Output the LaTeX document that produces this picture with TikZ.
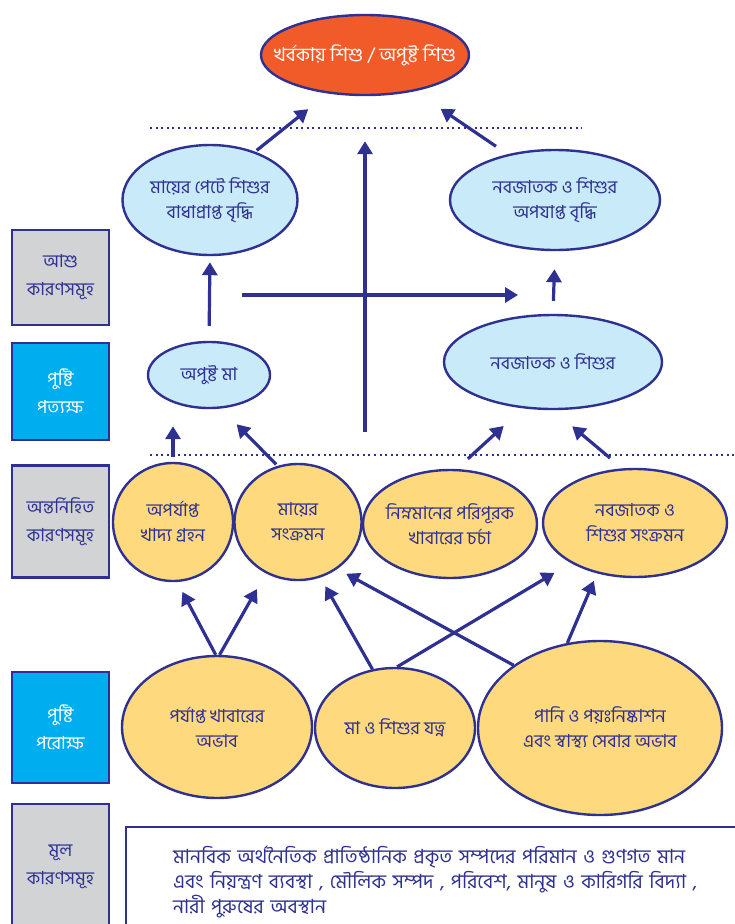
\documentclass[tikz,border=0pt]{standalone}
\usepackage{fontspec}
\setmainfont[Script=Bengali]{Hind Siliguri}
\usetikzlibrary{shapes.geometric, arrows.meta}
\definecolor{stuntblue}{HTML}{2E3192}
\definecolor{stuntorange}{HTML}{F15A29}
\definecolor{stuntsky}{HTML}{C9EAF9}
\definecolor{stuntyellow}{HTML}{FFD97D}
\definecolor{stuntgray}{HTML}{D1D3D4}
\definecolor{stuntcyan}{HTML}{00AEEF}

\begin{document}
\begin{tikzpicture}[
    x=1pt, y=-1pt,
    oval/.style={ellipse, draw=stuntblue, line width=2.4pt, inner xsep=-20pt, inner ysep=-4pt,
        align=center, text=stuntblue, font=\fontsize{18}{25}\selectfont},
    outcome/.style={oval, fill=stuntorange, text=white, font=\fontsize{19}{25}\selectfont},
    direct/.style={oval, fill=stuntsky},
    cause/.style={oval, fill=stuntyellow},
    level/.style={rectangle, draw=stuntblue, line width=2.4pt, fill=stuntgray, minimum width=97pt,
        align=center, text=stuntblue, font=\fontsize{18}{28}\selectfont},
    nutri/.style={level, fill=stuntcyan, text=white},
    arr/.style={-{Triangle[length=13pt, width=15pt]}, line width=3.2pt, stuntblue},
    dots/.style={stuntblue, line width=2pt, dash pattern=on 2pt off 3.6pt}
]
    \useasboundingbox (0,0) rectangle (735,924);
    \clip (0,0) rectangle (735,924);

    \draw[dots] (150,128) -- (582,128);
    \draw[dots] (150,455) -- (735,455);

    \node[outcome, minimum width=208pt, minimum height=80pt] (T) at (365,55) {খর্বকায় শিশু / অপুষ্ট শিশু};
    \node[direct, minimum width=175pt, minimum height=110pt] (L1) at (210,200) {মায়ের পেটে শিশুর\\বাধাপ্রাপ্ত বৃদ্ধি};
    \node[direct, minimum width=210pt, minimum height=100pt] (R1) at (555,200) {নবজাতক ও শিশুর\\অপযাপ্ত বৃদ্ধি};
    \node[direct, minimum width=122pt, minimum height=66pt] (L2) at (209,375) {অপুষ্ট মা};
    \node[direct, minimum width=218pt, minimum height=94pt] (R2) at (553,362) {নবজাতক ও শিশুর};

    \node[cause, minimum width=120pt, minimum height=118pt] (Y1) at (173,522) {অপর্যাপ্ত\\খাদ্য গ্রহন};
    \node[cause, minimum width=127pt, minimum height=116pt] (Y2) at (298,522) {মায়ের\\সংক্রমন};
    \node[cause, minimum width=174pt, minimum height=108pt] (Y3) at (450,524) {নিম্নমানের পরিপূরক\\খাবারের চর্চা};
    \node[cause, minimum width=184pt, minimum height=108pt] (Y4) at (635,523) {নবজাতক ও\\শিশুর সংক্রমন};

    \node[cause, minimum width=190pt, minimum height=142pt] (B1) at (217,727) {পর্যাপ্ত খাবারের\\অভাব};
    \node[cause, minimum width=160pt, minimum height=120pt] (B2) at (395,728) {মা ও শিশুর যত্ন};
    \node[cause, minimum width=244pt, minimum height=174pt] (B3) at (600,728) {পানি ও পয়ঃনিষ্কাশন\\এবং স্বাস্থ্য সেবার অভাব};

    \node[level, minimum height=95pt] (K1) at (60.5,277.5) {আশু\\কারণসমূহ};
    \node[nutri, minimum height=97pt] (K2) at (60.5,391.5) {পুষ্টি\\পত্যক্ষ};
    \node[level, minimum height=112pt] (K3) at (60.5,521.5) {অন্তর্নিহিত\\কারণসমূহ};
    \node[nutri, minimum height=111pt] (K4) at (60.5,727.5) {পুষ্টি\\পরোক্ষ};
    \node[level, minimum height=126pt, anchor=north] (K5) at (60.5,803) {মূল\\কারণসমূহ};

    \node[level, fill=white, anchor=north west, text width=580pt, inner xsep=47pt, minimum height=110pt,
        align=left, font=\fontsize{19.5}{25}\selectfont] (M) at (125,826)
        {মানবিক অর্থনৈতিক প্রাতিষ্ঠানিক প্রকৃত সম্পদের পরিমান ও গুণগত মান\\
         এবং নিয়ন্ত্রণ ব্যবস্থা , মৌলিক সম্পদ , পরিবেশ, মানুষ ও কারিগরি বিদ্যা ,\\
         নারী পুরুষের অবস্থান};

    \coordinate (mid) at (365,432);
    \coordinate (cross0) at (242,295);
    \coordinate (cross1) at (518,295);

    \draw[arr, shorten <=2pt, shorten >=25pt] (L1.47) -- (T.226);
    \draw[arr, shorten <=14pt, shorten >=31pt] (R1.136) -- (T.324);
    \draw[arr, shorten >=45pt] (mid) -- (T.south);
    \draw[arr, shorten <=15pt, shorten >=6pt] (L2.north) -- (L1.south);
    \draw[arr, shorten <=13pt, shorten >=18pt] (R2.north) -- (R1.south);
    \draw[arr] (cross0) -- (cross1);

    \draw[arr, shorten <=5pt, shorten >=17pt] (Y1.north) -- (Y1.north |- L2.south);
    \draw[arr, shorten <=2pt, shorten >=22pt] (Y2.110) -- (L2.290);
    \draw[arr, shorten <=15pt, shorten >=26pt] (Y3.83) -- (R2.237);
    \draw[arr, shorten <=16pt, shorten >=25pt] (Y4.103) -- (R2.270);

    \foreach \a/\b/\s in {B1.91/Y1.274/11pt, B1.88/Y2.238/18pt, B2.111/Y2.292/10pt,
                          B2.88/Y4.212/19pt, B3.144/Y2.310/10pt, B3.111/Y4.233/8pt}
        \draw[arr, shorten >=\s] (\a) -- (\b);
\end{tikzpicture}
\end{document}
